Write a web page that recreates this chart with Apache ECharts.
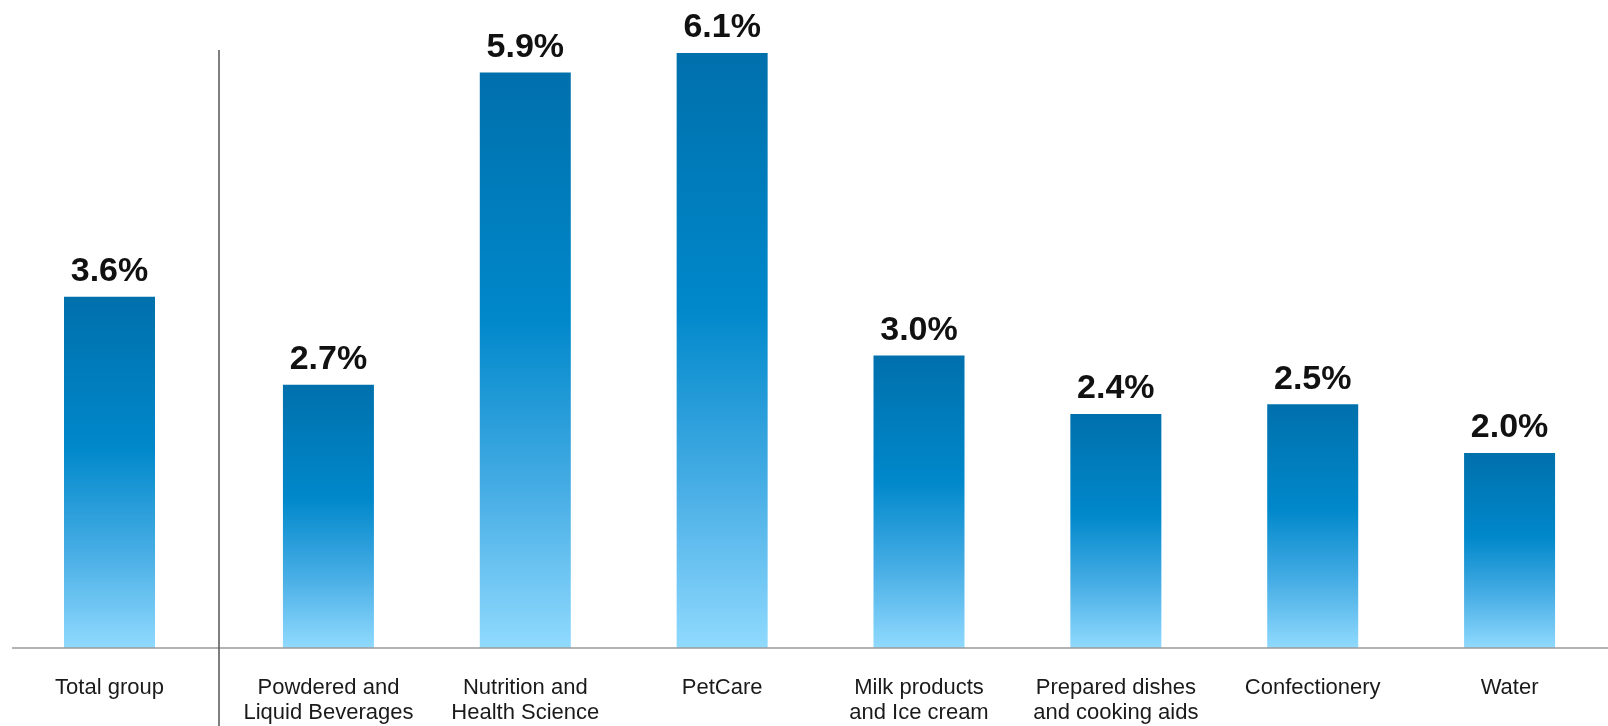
<!DOCTYPE html>
<html>
<head>
<meta charset="utf-8">
<script src="https://cdn.jsdelivr.net/npm/echarts@6/dist/echarts.min.js"></script>
<style>
html,body{margin:0;padding:0;background:#fff;}
#main{width:1608px;height:726px;}
</style>
</head>
<body>
<div id="main"></div>
<script>
const totalCategories = ['Total group'];
const totalValues = [3.6];
const segmentCategories = ['Powdered and\nLiquid Beverages', 'Nutrition and\nHealth Science', 'PetCare', 'Milk products\nand Ice cream', 'Prepared dishes\nand cooking aids', 'Confectionery', 'Water'];
const segmentValues = [2.7, 5.9, 6.1, 3.0, 2.4, 2.5, 2.0];

const chart = echarts.init(document.getElementById('main'), null, {renderer: 'canvas'});

const barGradient = new echarts.graphic.LinearGradient(0, 0, 0, 1, [
  {offset: 0, color: '#0070ac'},
  {offset: 0.43, color: '#0088cb'},
  {offset: 0.72, color: '#45ace4'},
  {offset: 1, color: '#90dafe'}
]);

const FONT = '"Liberation Sans", Arial, sans-serif';

function xAxisFor(idx, data) {
  return {
    type: 'category', gridIndex: idx, data: data,
    axisLine: {show: false}, axisTick: {show: false},
    axisLabel: {color: '#1a1a1a', fontSize: 22, lineHeight: 25, fontFamily: FONT, margin: 27, interval: 0}
  };
}
function yAxisFor(idx) {
  return {type: 'value', gridIndex: idx, min: 0, max: 6.5, show: false, splitLine: {show: false}};
}
function seriesFor(idx, data) {
  return {
    type: 'bar', xAxisIndex: idx, yAxisIndex: idx, data: data, barWidth: 91,
    itemStyle: {color: barGradient},
    label: {show: true, position: 'top', distance: 8, color: '#111', fontSize: 34, fontWeight: 'bold', fontFamily: FONT,
      formatter: p => p.value.toFixed(1) + '%'}
  };
}

chart.setOption({
  animation: false,
  backgroundColor: '#fff',
  grid: [
    {left: 12, width: 195, top: 14, bottom: 78},
    {left: 230, width: 1391, top: 14, bottom: 78}
  ],
  xAxis: [xAxisFor(0, totalCategories), xAxisFor(1, segmentCategories)],
  yAxis: [yAxisFor(0), yAxisFor(1)],
  series: [seriesFor(0, totalValues), seriesFor(1, segmentValues)],
  graphic: [
    {type: 'line', shape: {x1: 12, y1: 648, x2: 1608, y2: 648}, style: {stroke: '#9a9a9a', lineWidth: 1.5}, z: 10},
    {type: 'line', shape: {x1: 219, y1: 50, x2: 219, y2: 726}, style: {stroke: '#555', lineWidth: 1.5}, z: 10}
  ]
});
</script>
</body>
</html>
